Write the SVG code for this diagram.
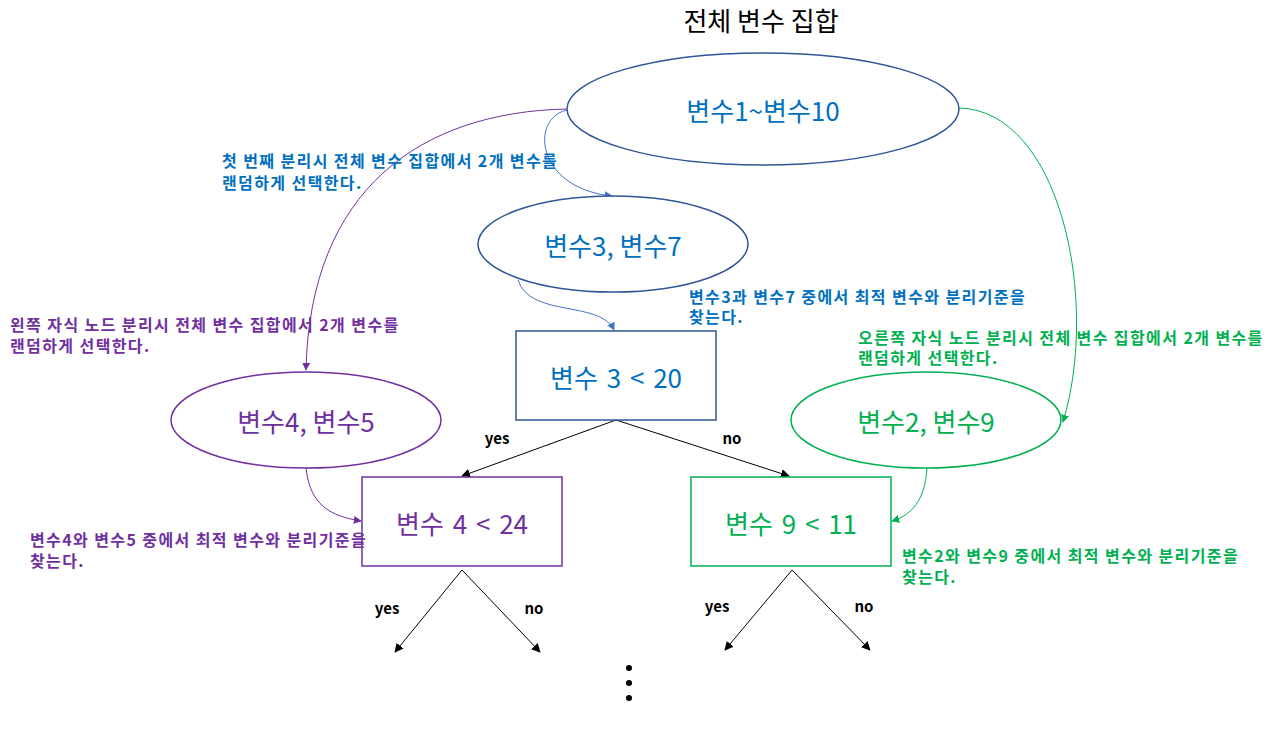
<svg xmlns="http://www.w3.org/2000/svg" width="1280" height="745" viewBox="0 0 1280 745">
<style>
text{font-family:"Noto Sans CJK KR","Noto Sans",sans-serif}
.node{font-size:26px;text-anchor:middle;dominant-baseline:central}
.cmp{word-spacing:3px}
.note{font-size:16px;font-weight:bold;letter-spacing:1.4px}
.lbl{font-size:15px;font-weight:bold;fill:#000;text-anchor:middle}
.blue{fill:#0070C0}.purple{fill:#7030A0}.green{fill:#00B050}
.sb{fill:#fff;stroke:#2F5597;stroke-width:1.5}
.sp{fill:#fff;stroke:#7030A0;stroke-width:1.5}
.sg{fill:#fff;stroke:#00B050;stroke-width:1.5}
.cb{fill:none;stroke:#4472C4;stroke-width:1}
.cp{fill:none;stroke:#7030A0;stroke-width:1}
.cg{fill:none;stroke:#00B050;stroke-width:1}
.ck{fill:none;stroke:#000;stroke-width:1}
</style>
<defs>
<marker id="ab" viewBox="0 0 10 10" refX="9" refY="5" markerWidth="8" markerHeight="8" orient="auto" markerUnits="userSpaceOnUse"><path d="M0,0L10,5L0,10z" fill="#4472C4"/></marker>
<marker id="ap" viewBox="0 0 10 10" refX="9" refY="5" markerWidth="8" markerHeight="8" orient="auto" markerUnits="userSpaceOnUse"><path d="M0,0L10,5L0,10z" fill="#7030A0"/></marker>
<marker id="ag" viewBox="0 0 10 10" refX="9" refY="5" markerWidth="8" markerHeight="8" orient="auto" markerUnits="userSpaceOnUse"><path d="M0,0L10,5L0,10z" fill="#00B050"/></marker>
<marker id="ak" viewBox="0 0 10 10" refX="9" refY="5" markerWidth="9" markerHeight="9" orient="auto" markerUnits="userSpaceOnUse"><path d="M0,0L10,5L0,10z" fill="#000"/></marker>
</defs>
<rect width="1280" height="745" fill="#fff"/>
<text x="761" y="31" font-size="26" text-anchor="middle" fill="#000">전체 변수 집합</text>

<g id="connectors">
<path class="cp" d="M567,109 C420,112 310,190 306,370" marker-end="url(#ap)"/>
<path class="cb" d="M567,110 C530,118 535,188 612,196" marker-end="url(#ab)"/>
<path class="cb" d="M518,280 C530,318 600,300 614,330" marker-end="url(#ab)"/>
<path class="cg" d="M959,108 C1060,110 1100,300 1063,422" marker-end="url(#ag)"/>
<path class="cp" d="M306,468 C310,505 330,516 361,521" marker-end="url(#ap)"/>
<path class="cg" d="M927,468 C925,500 912,515 892,521" marker-end="url(#ag)"/>
<path class="ck" d="M616,420 L462,476" marker-end="url(#ak)"/>
<path class="ck" d="M616,420 L789,476" marker-end="url(#ak)"/>
<path class="ck" d="M462,570 L395,652" marker-end="url(#ak)"/>
<path class="ck" d="M462,570 L540,652" marker-end="url(#ak)"/>
<path class="ck" d="M792,570 L725,650" marker-end="url(#ak)"/>
<path class="ck" d="M792,570 L870,650" marker-end="url(#ak)"/>
<text class="lbl" x="497" y="444">yes</text>
<text class="lbl" x="732" y="444">no</text>
<text class="lbl" x="387" y="614">yes</text>
<text class="lbl" x="534" y="614">no</text>
<text class="lbl" x="717" y="612">yes</text>
<text class="lbl" x="864" y="612">no</text>
</g>

<g id="n_all">
<ellipse class="sb" cx="763" cy="109" rx="196" ry="56"/>
<text class="node blue" x="763" y="109">변수1~변수10</text>
</g>
<g id="n_37">
<ellipse class="sb" cx="613" cy="244" rx="135" ry="48"/>
<text class="node blue" x="613" y="244">변수3, 변수7</text>
</g>
<g id="n_r1">
<rect class="sb" x="516" y="331" width="200" height="89"/>
<text class="node blue cmp" x="616" y="376">변수 3 &lt; 20</text>
</g>
<g id="n_45">
<ellipse class="sp" cx="306" cy="420" rx="135" ry="48"/>
<text class="node purple" x="306" y="420">변수4, 변수5</text>
</g>
<g id="n_29">
<ellipse class="sg" cx="926" cy="420" rx="135" ry="48"/>
<text class="node green" x="926" y="420">변수2, 변수9</text>
</g>
<g id="n_r2">
<rect class="sp" x="362" y="477" width="200" height="89"/>
<text class="node purple cmp" x="462" y="522">변수 4 &lt; 24</text>
</g>
<g id="n_r3">
<rect class="sg" x="691" y="477" width="200" height="89"/>
<text class="node green cmp" x="791" y="522">변수 9 &lt; 11</text>
</g>

<g id="notes">
<text class="note blue"><tspan x="222" y="167">첫 번째 분리시 전체 변수 집합에서 2개 변수를</tspan><tspan x="222" y="189">랜덤하게 선택한다.</tspan></text>
<text class="note blue"><tspan x="689" y="303">변수3과 변수7 중에서 최적 변수와 분리기준을</tspan><tspan x="689" y="323">찾는다.</tspan></text>
<text class="note purple"><tspan x="10" y="331">왼쪽 자식 노드 분리시 전체 변수 집합에서 2개 변수를</tspan><tspan x="10" y="352">랜덤하게 선택한다.</tspan></text>
<text class="note green"><tspan x="858" y="344">오른쪽 자식 노드 분리시 전체 변수 집합에서 2개 변수를</tspan><tspan x="858" y="364">랜덤하게 선택한다.</tspan></text>
<text class="note purple"><tspan x="30" y="546">변수4와 변수5 중에서 최적 변수와 분리기준을</tspan><tspan x="30" y="567">찾는다.</tspan></text>
<text class="note green"><tspan x="902" y="562">변수2와 변수9 중에서 최적 변수와 분리기준을</tspan><tspan x="902" y="583">찾는다.</tspan></text>
</g>

<g id="dots" fill="#000">
<circle cx="629" cy="668" r="3"/>
<circle cx="629" cy="683" r="3"/>
<circle cx="629" cy="698" r="3"/>
</g>
</svg>
